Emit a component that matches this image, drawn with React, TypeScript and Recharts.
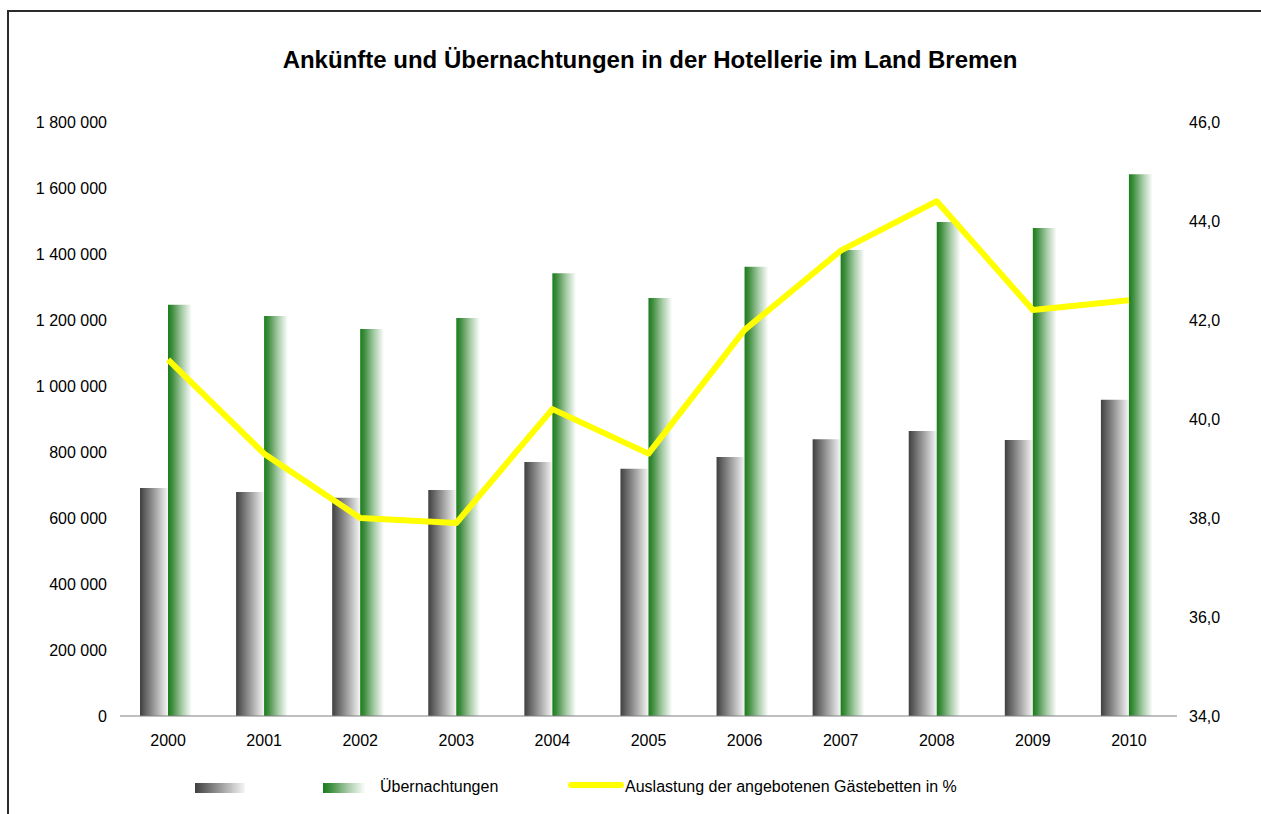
import React from 'react';
import { ComposedChart, Bar, Line, XAxis, YAxis } from 'recharts';

const years = ['2000', '2001', '2002', '2003', '2004', '2005', '2006', '2007', '2008', '2009', '2010'];
const ankuenfte = [691000, 679000, 661000, 685000, 770000, 749000, 785000, 839000, 864000, 836000, 958000];
const uebernachtungen = [1246000, 1212000, 1173000, 1206000, 1342000, 1267000, 1361000, 1412000, 1497000, 1479000, 1642000];
const auslastung = [41.2, 39.3, 38.0, 37.9, 40.2, 39.3, 41.8, 43.4, 44.4, 42.2, 42.4];

const leftTicks = [0, 200000, 400000, 600000, 800000, 1000000, 1200000, 1400000, 1600000, 1800000];
const rightTicks = [34, 36, 38, 40, 42, 44, 46];
const boundaryTicks = [0, 1, 2, 3, 4, 5, 6, 7, 8, 9, 10, 11];

const chartData = years.map((year, i) => ({
  year,
  ankuenfte: ankuenfte[i],
  uebernachtungen: uebernachtungen[i],
  auslastung: auslastung[i],
}));

const fontFamily = 'Arial, "Liberation Sans", sans-serif';
const tickStyle = { fontSize: 16, fill: '#000', fontFamily };

const greyGradient = 'linear-gradient(to right, #404040 0%, #9a9a9a 50%, #f6f6f6 100%)';
const greenGradient = 'linear-gradient(to right, #1b7d1b 0%, #3e8e3e 15%, #a8cba8 50%, #ffffff 85%)';

const fmtThousands = (v: number) => String(v).replace(/\B(?=(\d{3})+(?!\d))/g, ' ');
const fmtPercent = (v: number) => v.toFixed(1).replace('.', ',');

export default function App() {
  return (
    <div
      style={{
        position: 'absolute',
        left: 0,
        top: 0,
        width: 1261,
        height: 814,
        overflow: 'hidden',
        background: '#fff',
        fontFamily,
      }}
    >
      {/* frame: only its top and left edges are in the picture */}
      <svg width={1261} height={814} style={{ position: 'absolute', left: 0, top: 0 }}>
        <path d="M8 830 V11 H1280" fill="none" stroke="#2b2b2b" strokeWidth={2} />
      </svg>
      <div
        style={{
          position: 'absolute',
          left: 650,
          top: 46,
          transform: 'translateX(-50%)',
          whiteSpace: 'nowrap',
          fontSize: 24,
          fontWeight: 'bold',
          color: '#000',
        }}
      >
        Ankünfte und Übernachtungen in der Hotellerie im Land Bremen
      </div>

      <div style={{ position: 'absolute', left: 0, top: 0 }}>
        <ComposedChart
          width={1261}
          height={814}
          data={chartData}
          margin={{ top: 122, right: 0, bottom: 0, left: 0 }}
          barGap={0}
        >
          <defs>
            <linearGradient id="greyBar" x1="0" y1="0" x2="1" y2="0">
              <stop offset="0%" stopColor="#404040" />
              <stop offset="50%" stopColor="#9a9a9a" />
              <stop offset="100%" stopColor="#f6f6f6" />
            </linearGradient>
            <linearGradient id="greenBar" x1="0" y1="0" x2="1" y2="0">
              <stop offset="0%" stopColor="#1b7d1b" />
              <stop offset="15%" stopColor="#3e8e3e" />
              <stop offset="50%" stopColor="#a8cba8" />
              <stop offset="85%" stopColor="#ffffff" />
            </linearGradient>
          </defs>
          {/* axis line with tick marks between the categories */}
          <XAxis
            xAxisId={0}
            type="number"
            domain={[0, 11]}
            ticks={boundaryTicks}
            tick={false}
            height={1}
            axisLine={{ stroke: '#808080' }}
            tickLine={{ stroke: '#808080' }}
            tickSize={5}
          />
          <XAxis
            xAxisId={1}
            dataKey="year"
            height={97}
            axisLine={false}
            tickLine={false}
            tick={tickStyle}
            tickMargin={12}
          />
          <YAxis
            yAxisId="left"
            width={120}
            domain={[0, 1800000]}
            ticks={leftTicks}
            tickFormatter={fmtThousands}
            axisLine={false}
            tickLine={false}
            tick={tickStyle}
            tickMargin={7}
          />
          <YAxis
            yAxisId="right"
            orientation="right"
            width={84}
            domain={[34, 46]}
            ticks={rightTicks}
            tickFormatter={fmtPercent}
            axisLine={false}
            tickLine={false}
            tick={{ ...tickStyle, textAnchor: 'start' }}
            tickMargin={6}
          />
          <Bar xAxisId={1} yAxisId="left" dataKey="ankuenfte" barSize={28} fill="url(#greyBar)" isAnimationActive={false} />
          <Bar xAxisId={1} yAxisId="left" dataKey="uebernachtungen" barSize={28} fill="url(#greenBar)" isAnimationActive={false} />
          <Line
            xAxisId={1}
            yAxisId="right"
            dataKey="auslastung"
            type="linear"
            stroke="#ffff00"
            strokeWidth={6}
            dot={false}
            strokeLinejoin="round"
            isAnimationActive={false}
          />
        </ComposedChart>
      </div>

      {/* legend */}
      <div style={{ position: 'absolute', left: 195, top: 783, width: 50, height: 10, background: greyGradient }} />
      <div style={{ position: 'absolute', left: 323, top: 783, width: 50, height: 10, background: greenGradient }} />
      <div style={{ position: 'absolute', left: 380, top: 778, fontSize: 16, color: '#000', whiteSpace: 'nowrap' }}>
        Übernachtungen
      </div>
      <div
        style={{
          position: 'absolute',
          left: 568,
          top: 782,
          width: 56,
          height: 6,
          borderRadius: 3,
          background: '#ffff00',
        }}
      />
      <div style={{ position: 'absolute', left: 625, top: 778, fontSize: 16, color: '#000', whiteSpace: 'nowrap' }}>
        Auslastung der angebotenen Gästebetten in %
      </div>
    </div>
  );
}
